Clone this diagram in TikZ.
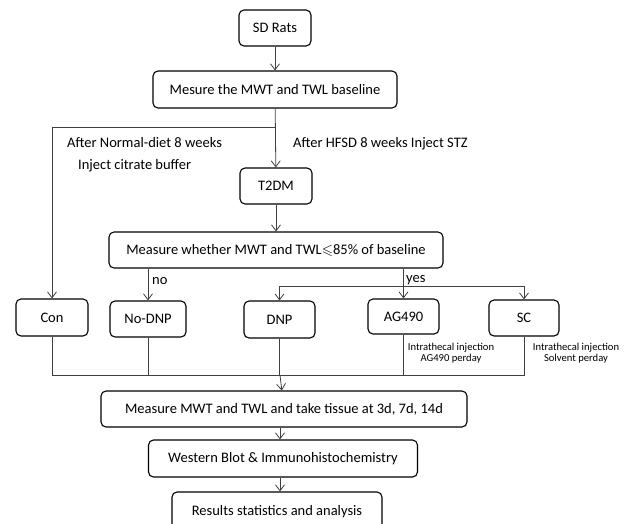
\documentclass[tikz,border=0pt]{standalone}
\usepackage{amssymb}
\usepackage{fontspec}
\setmainfont{Carlito}
\usetikzlibrary{arrows.meta}

\begin{document}
\begin{tikzpicture}[
    x=1pt, y=-1pt,
    box/.style={draw=black, line width=1.1pt, rounded corners=5pt, inner sep=0pt,
        font=\fontsize{14.5}{17}\selectfont},
    lbl/.style={inner sep=0pt, font=\fontsize{14.5}{17}\selectfont},
    note/.style={inner sep=0pt, align=center, font=\fontsize{10.6}{11}\selectfont},
    line/.style={draw=black!75, line width=0.8pt},
    arr/.style={line, -{Straight Barb[length=6pt,width=9pt]}}
]
    \useasboundingbox (0,0) rectangle (630,523);

    \node[box, minimum width=72, minimum height=36] (rats) at (275,28) {SD Rats};
    \node[box, minimum width=244, minimum height=37] (base) at (275,89.5) {Mesure the MWT and TWL baseline};
    \node[box, minimum width=72, minimum height=36] (t2dm) at (276,186) {T2DM};
    \node[box, minimum width=334, minimum height=36] (judge) at (276,250) {Measure whether MWT and TWL$\leqslant$85\% of baseline};

    \node[box, minimum width=72, minimum height=37] (con) at (52,317.5) {Con};
    \node[box, minimum width=76, minimum height=36] (nodnp) at (148,319) {No-DNP};
    \node[box, minimum width=71, minimum height=37] (dnp) at (279.5,319.5) {DNP};
    \node[box, minimum width=71, minimum height=35] (ag) at (403.5,316.5) {AG490};
    \node[box, minimum width=70, minimum height=36] (sc) at (524,318) {SC};

    \node[box, minimum width=366, minimum height=36] (meas) at (284,409) {Measure MWT and TWL and take tissue at 3d, 7d, 14d};
    \node[box, minimum width=269, minimum height=37] (wb) at (283,458.5) {Western Blot \& Immunohistochemistry\hspace{6pt}};
    \node[box, minimum width=210, minimum height=40] (res) at (277,512) {Results statistics and analysis\hspace{10pt}};

    % labels
    \node[lbl, anchor=west] (normal) at (67,143) {After Normal-diet 8 weeks};
    \node[lbl, anchor=west] (citrate) at (78,166) {Inject citrate buffer};
    \node[lbl, anchor=west] (hfsd) at (293,144) {After HFSD 8 weeks Inject STZ};
    \node[lbl, anchor=west] (no) at (152,281) {no};
    \node[lbl, anchor=west] (yes) at (406,280) {yes};
    \node[note] (agnote) at (451,353) {Intrathecal injection\\AG490 perday};
    \node[note] (scnote) at (576,353) {Intrathecal injection\\Solvent perday};

    \coordinate (split) at (275,127);
    \coordinate (fork) at (403,286);
    \coordinate (join) at (280,375);

    \draw[arr] (rats) -- (base);
    \draw[arr] (base) -- (t2dm);
    \draw[arr] (split) -| (con);
    \draw[arr] (t2dm) -- (judge);

    \draw[arr] (nodnp.north |- judge.south) -- (nodnp);
    \draw[arr] (ag.north |- judge.south) -- (ag);
    \draw[arr] (fork) -| (dnp);
    \draw[arr] (fork) -| (sc);

    \draw[line] (con) |- (sc.south |- join) -- (sc);
    \draw[line] (nodnp) -- (nodnp.south |- join);
    \draw[line] (dnp) -- (dnp.south |- join);
    \draw[line] (ag) -- (ag.south |- join);

    \draw[arr] (join) -- (meas);
    \draw[arr] (meas.south -| join) -- (wb.north -| join);
    \draw[arr] (wb.south -| join) -- (res.north -| join);
\end{tikzpicture}
\end{document}
